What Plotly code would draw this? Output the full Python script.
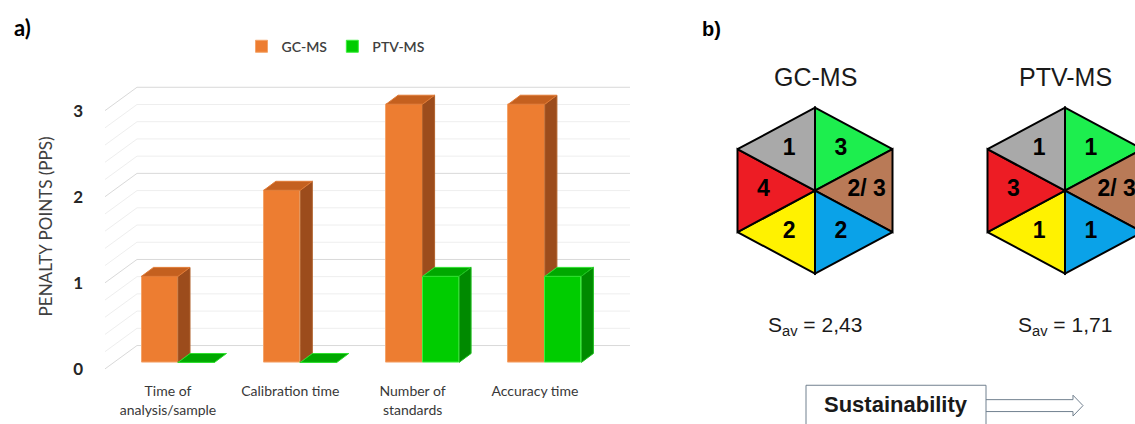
import plotly.graph_objects as go

W, H = 1135, 424

# ---------------- data ----------------
categories = ["Time of<br>analysis/sample", "Calibration time", "Number of<br>standards", "Accuracy time"]
series_names = ["GC-MS", "PTV-MS"]
gc_ms = [1, 2, 3, 3]
ptv_ms = [0, 0, 1, 1]
y_ticks = [0, 1, 2, 3]

methods = ["GC-MS", "PTV-MS"]
# segment order: green(top-right), brown(right), blue(bottom-right), yellow(bottom-left), red(left), gray(top-left)
gc_scores = ["3", "2/ 3", "2", "2", "4", "1"]
ptv_scores = ["1", "2/ 3", "1", "1", "3", "1"]
s_av = ["2,43", "1,71"]
segment_colors = ["#1DEE4E", "#B97A57", "#0AA2E8", "#FFF200", "#ED1C24", "#A9A9A9"]

# ---------------- geometry (pixel based layout) ----------------
X0_PX, CAT_PX = 178.0, 122.3      # pixel of category 0 boundary, px per category
BASE_PX, UNIT_PX = 365.0, 86.7    # pixel of value 0, px per value unit
def xu(px): return (px - X0_PX) / CAT_PX
def vu(py): return (BASE_PX - py) / UNIT_PX

BAR_W = 36.5 / CAT_PX
DX, DY = 12 / CAT_PX, 9 / UNIT_PX
WALL_DY = 17 / UNIT_PX
FRONT_DY = 6.5 / UNIT_PX

fig = go.Figure()

# front faces
fig.add_trace(go.Bar(x=[i - BAR_W / 2 for i in range(len(categories))], y=gc_ms, width=BAR_W,
                     name=series_names[0], marker=dict(color="#ED7D31", line=dict(color="#F4A46A", width=1)),
                     xaxis="x", yaxis="y"))
fig.add_trace(go.Bar(x=[i + BAR_W / 2 for i in range(len(categories))], y=ptv_ms, width=BAR_W,
                     name=series_names[1], marker=dict(color="#00CC00", line=dict(color="#3CF03C", width=1)),
                     xaxis="x", yaxis="y"))

def poly_trace(polys, color, line_color):
    xs, ys = [], []
    for p in polys:
        for (a, b) in p + [p[0]]:
            xs.append(a); ys.append(b)
        xs.append(None); ys.append(None)
    return go.Scatter(x=xs, y=ys, fill="toself", fillcolor=color, mode="lines",
                      line=dict(color=line_color, width=1), showlegend=False, hoverinfo="skip",
                      xaxis="x", yaxis="y")

gc_side, gc_top, ptv_top, ptv_side = [], [], [], []
for i, (g, p) in enumerate(zip(gc_ms, ptv_ms)):
    b = i
    gl = b - BAR_W
    gc_top.append([(gl, g), (b, g), (b + DX, g + DY), (gl + DX, g + DY)])
    if g > p:
        gc_side.append([(b, p), (b + DX, p + DY), (b + DX, g + DY), (b, g)])
    pr = b + BAR_W
    ptv_top.append([(b, p), (pr, p), (pr + DX, p + DY), (b + DX, p + DY)])
    if p > 0:
        ptv_side.append([(pr, 0), (pr + DX, DY), (pr + DX, p + DY), (pr, p)])

fig.add_trace(poly_trace(gc_side, "#9C4C1C", "#B0602A"))
fig.add_trace(poly_trace(gc_top, "#C4601F", "#E07A35"))
fig.add_trace(poly_trace(ptv_top, "#00A800", "#30E030"))
fig.add_trace(poly_trace(ptv_side, "#008A00", "#20C020"))

# gridlines (back wall + side wall)
shapes = []
xb0, xb1, xs0 = xu(137), xu(630), xu(105)
for k in range(16):
    v = k * 0.2
    col = "#D9D9D9" if k % 5 == 0 else "#EEEEEE"
    shapes.append(dict(type="line", xref="x", yref="y", x0=xb0, x1=xb1, y0=v + WALL_DY, y1=v + WALL_DY,
                       line=dict(color=col, width=1), layer="below"))
    shapes.append(dict(type="line", xref="x", yref="y", x0=xs0, x1=xb0, y0=v - FRONT_DY, y1=v + WALL_DY,
                       line=dict(color=col, width=1), layer="below"))

# ---------------- hexagons ----------------
HEX_PX = 250.0
HC_X, HC_Y = 815.0, 192.0
def hx(px): return (px - HC_X) / HEX_PX
def hy(py): return (HC_Y - py) / HEX_PX
RX, RY = 77.5 / HEX_PX, 83.5 / HEX_PX
verts = [(0, RY), (RX, RY / 2), (RX, -RY / 2), (0, -RY), (-RX, -RY / 2), (-RX, RY / 2)]

all_scores = [gc_scores, ptv_scores]
for s, col in enumerate(segment_colors):
    xs, ys = [], []
    for m in range(len(methods)):
        a, b = verts[s], verts[(s + 1) % 6]
        for (px_, py_) in [(0, 0), a, b, (0, 0)]:
            xs.append(m + px_); ys.append(py_)
        xs.append(None); ys.append(None)
    fig.add_trace(go.Scatter(x=xs, y=ys, fill="toself", fillcolor=col, mode="lines",
                             line=dict(color="#000000", width=2), showlegend=False, hoverinfo="skip",
                             xaxis="x2", yaxis="y2"))

tx, ty, tt = [], [], []
for m in range(len(methods)):
    for s in range(6):
        a, b = verts[s], verts[(s + 1) % 6]
        tx.append(m + (a[0] + b[0]) / 3)
        ty.append((a[1] + b[1]) / 3)
        tt.append(all_scores[m][s])
fig.add_trace(go.Scatter(x=tx, y=ty, text=tt, mode="text", showlegend=False, hoverinfo="skip",
                         textfont=dict(family="Liberation Sans", size=23, color="#000000", weight="bold"),
                         xaxis="x2", yaxis="y2"))

annotations = []
for m, name in enumerate(methods):
    annotations.append(dict(x=m, y=hy(78), xref="x2", yref="y2", text=name, showarrow=False,
                            xanchor="center", yanchor="middle",
                            font=dict(family="Liberation Sans", size=25, color="#1A1A1A")))
    annotations.append(dict(x=m, y=hy(328), xref="x2", yref="y2", text="S<sub>av</sub> = " + s_av[m],
                            showarrow=False, xanchor="center", yanchor="middle",
                            font=dict(family="Liberation Sans", size=21, color="#1A1A1A")))

def px(x): return x / W
def py(y): return 1 - y / H

annotations += [
    dict(x=px(22), y=py(28), xref="paper", yref="paper", text="<b>a)</b>", showarrow=False,
         xanchor="center", yanchor="middle", font=dict(family="Lato", size=22, color="#000000")),
    dict(x=px(711), y=py(29), xref="paper", yref="paper", text="<b>b)</b>", showarrow=False,
         xanchor="center", yanchor="middle", font=dict(family="Liberation Sans", size=20, color="#000000")),
    dict(x=px(45), y=py(228), xref="paper", yref="paper", text="PENALTY POINTS (PPS)", textangle=-90,
         showarrow=False, xanchor="center", yanchor="middle",
         font=dict(family="Lato", size=17, color="#404040")),
    dict(x=px(896), y=py(407), xref="paper", yref="paper", text="<b>Sustainability</b>", showarrow=False,
         xanchor="center", yanchor="middle", font=dict(family="Liberation Sans", size=22, color="#1A1A1A")),
]

shapes.append(dict(type="rect", xref="paper", yref="paper", x0=px(806), x1=px(986), y0=py(388), y1=py(432),
                   line=dict(color="#71808F", width=1)))
arrow = [(986, 402.5), (1073, 402.5), (1073, 398), (1083, 408.5), (1073, 419), (1073, 414.5), (986, 414.5)]
path = "M" + " L".join(f"{px(a):.5f},{py(b):.5f}" for a, b in arrow)
shapes.append(dict(type="path", xref="paper", yref="paper", path=path, line=dict(color="#71808F", width=1)))

fig.update_layout(
    width=W, height=H, margin=dict(l=0, r=0, t=0, b=0),
    paper_bgcolor="white", plot_bgcolor="rgba(0,0,0,0)",
    barmode="overlay", bargap=0,
    xaxis=dict(domain=[84 / W, 640 / W], range=[xu(84), xu(640)],
               tickvals=[i - 10 / CAT_PX for i in range(len(categories))], ticktext=categories,
               showgrid=False, zeroline=False, showline=False, ticks="", ticklabelstandoff=6,
               tickfont=dict(family="Lato", size=14, color="#383838")),
    yaxis=dict(domain=[1 - 378 / H, 1 - 60 / H], range=[vu(378), vu(60)],
               tickvals=[v - FRONT_DY for v in y_ticks], ticktext=[str(v) for v in y_ticks],
               showgrid=False, zeroline=False, showline=False, ticks="",
               tickfont=dict(family="Lato", size=17, color="#262626", weight="bold")),
    xaxis2=dict(domain=[690 / W, 1], range=[hx(690), hx(1135)], visible=False),
    yaxis2=dict(domain=[0, 1], range=[hy(424), hy(0)], visible=False),
    legend=dict(orientation="h", x=px(336), xanchor="center", y=py(47), yanchor="middle",
                font=dict(family="Lato", size=14, color="#404040", weight=600), itemwidth=30,
                tracegroupgap=0, bgcolor="rgba(0,0,0,0)"),
    shapes=shapes, annotations=annotations,
)

fig.write_html("out.html", config={"displayModeBar": False},
               post_script="document.body.style.margin='0px';")
